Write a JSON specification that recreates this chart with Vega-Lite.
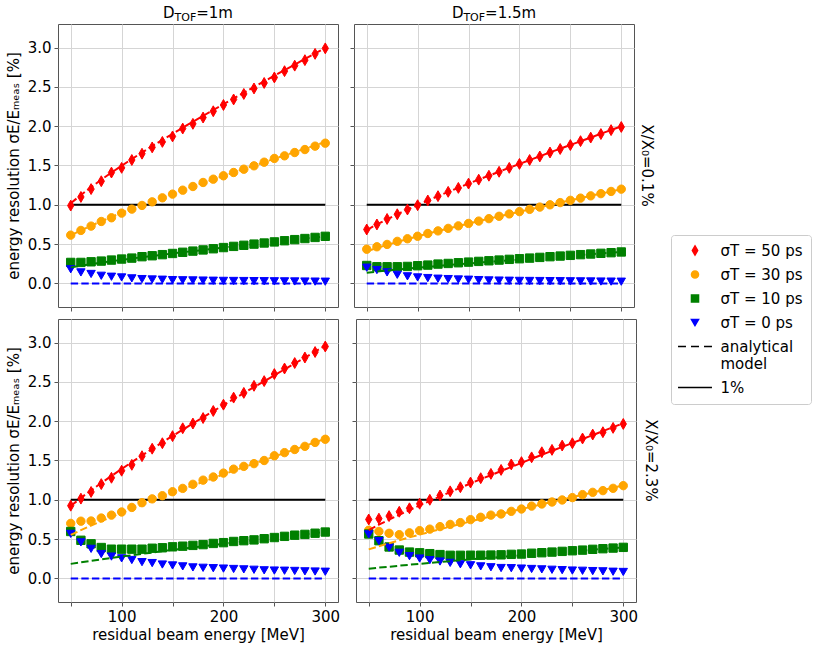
{
"$schema":"https://vega.github.io/schema/vega-lite/v6.json",
"padding":{"top":5,"left":5,"right":5,"bottom":0},
"datasets":{
"ref":[{"E":50,"E2":300,"m":1}],
"d":[
{"p":"tl","s":"50","E":50,"m":0.99,"a":1.019},{"p":"tl","s":"50","E":60,"m":1.10,"a":1.125},{"p":"tl","s":"50","E":70,"m":1.20,"a":1.224},{"p":"tl","s":"50","E":80,"m":1.30,"a":1.319},{"p":"tl","s":"50","E":90,"m":1.41,"a":1.410},{"p":"tl","s":"50","E":100,"m":1.47,"a":1.497},{"p":"tl","s":"50","E":110,"m":1.57,"a":1.582},{"p":"tl","s":"50","E":120,"m":1.65,"a":1.665},{"p":"tl","s":"50","E":130,"m":1.73,"a":1.746},{"p":"tl","s":"50","E":140,"m":1.80,"a":1.826},{"p":"tl","s":"50","E":150,"m":1.87,"a":1.904},{"p":"tl","s":"50","E":160,"m":1.97,"a":1.981},{"p":"tl","s":"50","E":170,"m":2.03,"a":2.057},{"p":"tl","s":"50","E":180,"m":2.11,"a":2.132},{"p":"tl","s":"50","E":190,"m":2.19,"a":2.206},{"p":"tl","s":"50","E":200,"m":2.27,"a":2.280},{"p":"tl","s":"50","E":210,"m":2.34,"a":2.353},{"p":"tl","s":"50","E":220,"m":2.41,"a":2.426},{"p":"tl","s":"50","E":230,"m":2.48,"a":2.498},{"p":"tl","s":"50","E":240,"m":2.55,"a":2.570},{"p":"tl","s":"50","E":250,"m":2.62,"a":2.642},{"p":"tl","s":"50","E":260,"m":2.70,"a":2.713},{"p":"tl","s":"50","E":270,"m":2.77,"a":2.784},{"p":"tl","s":"50","E":280,"m":2.84,"a":2.855},{"p":"tl","s":"50","E":290,"m":2.92,"a":2.926},{"p":"tl","s":"50","E":300,"m":2.99,"a":2.997},
{"p":"tl","s":"30","E":50,"m":0.614,"a":0.611},{"p":"tl","s":"30","E":60,"m":0.674,"a":0.675},{"p":"tl","s":"30","E":70,"m":0.729,"a":0.735},{"p":"tl","s":"30","E":80,"m":0.788,"a":0.791},{"p":"tl","s":"30","E":90,"m":0.835,"a":0.846},{"p":"tl","s":"30","E":100,"m":0.894,"a":0.898},{"p":"tl","s":"30","E":110,"m":0.945,"a":0.949},{"p":"tl","s":"30","E":120,"m":0.992,"a":0.999},{"p":"tl","s":"30","E":130,"m":1.038,"a":1.048},{"p":"tl","s":"30","E":140,"m":1.089,"a":1.095},{"p":"tl","s":"30","E":150,"m":1.136,"a":1.142},{"p":"tl","s":"30","E":160,"m":1.186,"a":1.188},{"p":"tl","s":"30","E":170,"m":1.233,"a":1.234},{"p":"tl","s":"30","E":180,"m":1.284,"a":1.279},{"p":"tl","s":"30","E":190,"m":1.326,"a":1.324},{"p":"tl","s":"30","E":200,"m":1.369,"a":1.368},{"p":"tl","s":"30","E":210,"m":1.411,"a":1.412},{"p":"tl","s":"30","E":220,"m":1.453,"a":1.456},{"p":"tl","s":"30","E":230,"m":1.496,"a":1.499},{"p":"tl","s":"30","E":240,"m":1.542,"a":1.542},{"p":"tl","s":"30","E":250,"m":1.59,"a":1.585},{"p":"tl","s":"30","E":260,"m":1.623,"a":1.628},{"p":"tl","s":"30","E":270,"m":1.665,"a":1.671},{"p":"tl","s":"30","E":280,"m":1.703,"a":1.713},{"p":"tl","s":"30","E":290,"m":1.746,"a":1.756},{"p":"tl","s":"30","E":300,"m":1.784,"a":1.798},
{"p":"tl","s":"10","E":50,"m":0.267,"a":0.204},{"p":"tl","s":"10","E":60,"m":0.267,"a":0.225},{"p":"tl","s":"10","E":70,"m":0.275,"a":0.245},{"p":"tl","s":"10","E":80,"m":0.284,"a":0.264},{"p":"tl","s":"10","E":90,"m":0.297,"a":0.282},{"p":"tl","s":"10","E":100,"m":0.310,"a":0.299},{"p":"tl","s":"10","E":110,"m":0.322,"a":0.316},{"p":"tl","s":"10","E":120,"m":0.340,"a":0.333},{"p":"tl","s":"10","E":130,"m":0.352,"a":0.349},{"p":"tl","s":"10","E":140,"m":0.366,"a":0.365},{"p":"tl","s":"10","E":150,"m":0.381,"a":0.381},{"p":"tl","s":"10","E":160,"m":0.396,"a":0.396},{"p":"tl","s":"10","E":170,"m":0.411,"a":0.411},{"p":"tl","s":"10","E":180,"m":0.426,"a":0.426},{"p":"tl","s":"10","E":190,"m":0.441,"a":0.441},{"p":"tl","s":"10","E":200,"m":0.456,"a":0.456},{"p":"tl","s":"10","E":210,"m":0.471,"a":0.471},{"p":"tl","s":"10","E":220,"m":0.485,"a":0.485},{"p":"tl","s":"10","E":230,"m":0.500,"a":0.500},{"p":"tl","s":"10","E":240,"m":0.514,"a":0.514},{"p":"tl","s":"10","E":250,"m":0.528,"a":0.528},{"p":"tl","s":"10","E":260,"m":0.543,"a":0.543},{"p":"tl","s":"10","E":270,"m":0.557,"a":0.557},{"p":"tl","s":"10","E":280,"m":0.571,"a":0.571},{"p":"tl","s":"10","E":290,"m":0.585,"a":0.585},{"p":"tl","s":"10","E":300,"m":0.599,"a":0.599},
{"p":"tl","s":"0","E":50,"m":0.180,"a":0},{"p":"tl","s":"0","E":60,"m":0.140,"a":0},{"p":"tl","s":"0","E":70,"m":0.120,"a":0},{"p":"tl","s":"0","E":80,"m":0.097,"a":0},{"p":"tl","s":"0","E":90,"m":0.085,"a":0},{"p":"tl","s":"0","E":100,"m":0.076,"a":0},{"p":"tl","s":"0","E":110,"m":0.064,"a":0},{"p":"tl","s":"0","E":120,"m":0.055,"a":0},{"p":"tl","s":"0","E":130,"m":0.050,"a":0},{"p":"tl","s":"0","E":140,"m":0.047,"a":0},{"p":"tl","s":"0","E":150,"m":0.042,"a":0},{"p":"tl","s":"0","E":160,"m":0.040,"a":0},{"p":"tl","s":"0","E":170,"m":0.038,"a":0},{"p":"tl","s":"0","E":180,"m":0.036,"a":0},{"p":"tl","s":"0","E":190,"m":0.034,"a":0},{"p":"tl","s":"0","E":200,"m":0.032,"a":0},{"p":"tl","s":"0","E":210,"m":0.031,"a":0},{"p":"tl","s":"0","E":220,"m":0.030,"a":0},{"p":"tl","s":"0","E":230,"m":0.029,"a":0},{"p":"tl","s":"0","E":240,"m":0.028,"a":0},{"p":"tl","s":"0","E":250,"m":0.027,"a":0},{"p":"tl","s":"0","E":260,"m":0.026,"a":0},{"p":"tl","s":"0","E":270,"m":0.025,"a":0},{"p":"tl","s":"0","E":280,"m":0.024,"a":0},{"p":"tl","s":"0","E":290,"m":0.023,"a":0},{"p":"tl","s":"0","E":300,"m":0.022,"a":0},

{"p":"tr","s":"50","E":50,"m":0.686,"a":0.679},{"p":"tr","s":"50","E":60,"m":0.750,"a":0.750},{"p":"tr","s":"50","E":70,"m":0.820,"a":0.816},{"p":"tr","s":"50","E":80,"m":0.880,"a":0.879},{"p":"tr","s":"50","E":90,"m":0.940,"a":0.940},{"p":"tr","s":"50","E":100,"m":0.995,"a":0.998},{"p":"tr","s":"50","E":110,"m":1.055,"a":1.055},{"p":"tr","s":"50","E":120,"m":1.110,"a":1.110},{"p":"tr","s":"50","E":130,"m":1.165,"a":1.164},{"p":"tr","s":"50","E":140,"m":1.215,"a":1.217},{"p":"tr","s":"50","E":150,"m":1.270,"a":1.269},{"p":"tr","s":"50","E":160,"m":1.320,"a":1.321},{"p":"tr","s":"50","E":170,"m":1.370,"a":1.371},{"p":"tr","s":"50","E":180,"m":1.420,"a":1.421},{"p":"tr","s":"50","E":190,"m":1.470,"a":1.471},{"p":"tr","s":"50","E":200,"m":1.520,"a":1.520},{"p":"tr","s":"50","E":210,"m":1.570,"a":1.569},{"p":"tr","s":"50","E":220,"m":1.615,"a":1.617},{"p":"tr","s":"50","E":230,"m":1.665,"a":1.666},{"p":"tr","s":"50","E":240,"m":1.710,"a":1.714},{"p":"tr","s":"50","E":250,"m":1.760,"a":1.761},{"p":"tr","s":"50","E":260,"m":1.810,"a":1.809},{"p":"tr","s":"50","E":270,"m":1.855,"a":1.856},{"p":"tr","s":"50","E":280,"m":1.900,"a":1.904},{"p":"tr","s":"50","E":290,"m":1.950,"a":1.951},{"p":"tr","s":"50","E":300,"m":1.990,"a":1.998},
{"p":"tr","s":"30","E":50,"m":0.435,"a":0.408},{"p":"tr","s":"30","E":60,"m":0.466,"a":0.450},{"p":"tr","s":"30","E":70,"m":0.496,"a":0.490},{"p":"tr","s":"30","E":80,"m":0.535,"a":0.528},{"p":"tr","s":"30","E":90,"m":0.568,"a":0.564},{"p":"tr","s":"30","E":100,"m":0.600,"a":0.599},{"p":"tr","s":"30","E":110,"m":0.635,"a":0.633},{"p":"tr","s":"30","E":120,"m":0.668,"a":0.666},{"p":"tr","s":"30","E":130,"m":0.700,"a":0.698},{"p":"tr","s":"30","E":140,"m":0.732,"a":0.730},{"p":"tr","s":"30","E":150,"m":0.763,"a":0.762},{"p":"tr","s":"30","E":160,"m":0.793,"a":0.792},{"p":"tr","s":"30","E":170,"m":0.824,"a":0.823},{"p":"tr","s":"30","E":180,"m":0.854,"a":0.853},{"p":"tr","s":"30","E":190,"m":0.884,"a":0.883},{"p":"tr","s":"30","E":200,"m":0.913,"a":0.912},{"p":"tr","s":"30","E":210,"m":0.942,"a":0.941},{"p":"tr","s":"30","E":220,"m":0.971,"a":0.970},{"p":"tr","s":"30","E":230,"m":1.000,"a":0.999},{"p":"tr","s":"30","E":240,"m":1.028,"a":1.028},{"p":"tr","s":"30","E":250,"m":1.057,"a":1.057},{"p":"tr","s":"30","E":260,"m":1.085,"a":1.085},{"p":"tr","s":"30","E":270,"m":1.114,"a":1.114},{"p":"tr","s":"30","E":280,"m":1.142,"a":1.142},{"p":"tr","s":"30","E":290,"m":1.170,"a":1.170},{"p":"tr","s":"30","E":300,"m":1.199,"a":1.199},
{"p":"tr","s":"10","E":50,"m":0.228,"a":0.136},{"p":"tr","s":"10","E":60,"m":0.212,"a":0.150},{"p":"tr","s":"10","E":70,"m":0.212,"a":0.163},{"p":"tr","s":"10","E":80,"m":0.212,"a":0.176},{"p":"tr","s":"10","E":90,"m":0.216,"a":0.188},{"p":"tr","s":"10","E":100,"m":0.225,"a":0.200},{"p":"tr","s":"10","E":110,"m":0.233,"a":0.211},{"p":"tr","s":"10","E":120,"m":0.246,"a":0.222},{"p":"tr","s":"10","E":130,"m":0.254,"a":0.233},{"p":"tr","s":"10","E":140,"m":0.263,"a":0.243},{"p":"tr","s":"10","E":150,"m":0.271,"a":0.254},{"p":"tr","s":"10","E":160,"m":0.280,"a":0.264},{"p":"tr","s":"10","E":170,"m":0.288,"a":0.274},{"p":"tr","s":"10","E":180,"m":0.297,"a":0.284},{"p":"tr","s":"10","E":190,"m":0.306,"a":0.294},{"p":"tr","s":"10","E":200,"m":0.314,"a":0.304},{"p":"tr","s":"10","E":210,"m":0.322,"a":0.314},{"p":"tr","s":"10","E":220,"m":0.331,"a":0.323},{"p":"tr","s":"10","E":230,"m":0.340,"a":0.333},{"p":"tr","s":"10","E":240,"m":0.348,"a":0.343},{"p":"tr","s":"10","E":250,"m":0.357,"a":0.352},{"p":"tr","s":"10","E":260,"m":0.366,"a":0.362},{"p":"tr","s":"10","E":270,"m":0.374,"a":0.371},{"p":"tr","s":"10","E":280,"m":0.383,"a":0.381},{"p":"tr","s":"10","E":290,"m":0.391,"a":0.390},{"p":"tr","s":"10","E":300,"m":0.400,"a":0.400},
{"p":"tr","s":"0","E":50,"m":0.200,"a":0},{"p":"tr","s":"0","E":60,"m":0.170,"a":0},{"p":"tr","s":"0","E":70,"m":0.140,"a":0},{"p":"tr","s":"0","E":80,"m":0.110,"a":0},{"p":"tr","s":"0","E":90,"m":0.090,"a":0},{"p":"tr","s":"0","E":100,"m":0.076,"a":0},{"p":"tr","s":"0","E":110,"m":0.068,"a":0},{"p":"tr","s":"0","E":120,"m":0.060,"a":0},{"p":"tr","s":"0","E":130,"m":0.055,"a":0},{"p":"tr","s":"0","E":140,"m":0.050,"a":0},{"p":"tr","s":"0","E":150,"m":0.047,"a":0},{"p":"tr","s":"0","E":160,"m":0.042,"a":0},{"p":"tr","s":"0","E":170,"m":0.038,"a":0},{"p":"tr","s":"0","E":180,"m":0.036,"a":0},{"p":"tr","s":"0","E":190,"m":0.034,"a":0},{"p":"tr","s":"0","E":200,"m":0.032,"a":0},{"p":"tr","s":"0","E":210,"m":0.031,"a":0},{"p":"tr","s":"0","E":220,"m":0.030,"a":0},{"p":"tr","s":"0","E":230,"m":0.029,"a":0},{"p":"tr","s":"0","E":240,"m":0.028,"a":0},{"p":"tr","s":"0","E":250,"m":0.027,"a":0},{"p":"tr","s":"0","E":260,"m":0.026,"a":0},{"p":"tr","s":"0","E":270,"m":0.025,"a":0},{"p":"tr","s":"0","E":280,"m":0.024,"a":0},{"p":"tr","s":"0","E":290,"m":0.023,"a":0},{"p":"tr","s":"0","E":300,"m":0.022,"a":0},

{"p":"bl","s":"50","E":50,"m":0.925,"a":0.922},{"p":"bl","s":"50","E":60,"m":1.015,"a":1.024},{"p":"bl","s":"50","E":70,"m":1.100,"a":1.120},{"p":"bl","s":"50","E":80,"m":1.200,"a":1.213},{"p":"bl","s":"50","E":90,"m":1.280,"a":1.304},{"p":"bl","s":"50","E":100,"m":1.370,"a":1.392},{"p":"bl","s":"50","E":110,"m":1.445,"a":1.479},{"p":"bl","s":"50","E":120,"m":1.555,"a":1.565},{"p":"bl","s":"50","E":130,"m":1.650,"a":1.648},{"p":"bl","s":"50","E":140,"m":1.720,"a":1.731},{"p":"bl","s":"50","E":150,"m":1.810,"a":1.813},{"p":"bl","s":"50","E":160,"m":1.910,"a":1.892},{"p":"bl","s":"50","E":170,"m":1.970,"a":1.971},{"p":"bl","s":"50","E":180,"m":2.040,"a":2.049},{"p":"bl","s":"50","E":190,"m":2.130,"a":2.127},{"p":"bl","s":"50","E":200,"m":2.210,"a":2.205},{"p":"bl","s":"50","E":210,"m":2.300,"a":2.282},{"p":"bl","s":"50","E":220,"m":2.360,"a":2.358},{"p":"bl","s":"50","E":230,"m":2.450,"a":2.433},{"p":"bl","s":"50","E":240,"m":2.510,"a":2.508},{"p":"bl","s":"50","E":250,"m":2.600,"a":2.584},{"p":"bl","s":"50","E":260,"m":2.670,"a":2.659},{"p":"bl","s":"50","E":270,"m":2.740,"a":2.734},{"p":"bl","s":"50","E":280,"m":2.810,"a":2.809},{"p":"bl","s":"50","E":290,"m":2.880,"a":2.885},{"p":"bl","s":"50","E":300,"m":2.950,"a":2.961},
{"p":"bl","s":"30","E":50,"m":0.700,"a":0.553},{"p":"bl","s":"30","E":60,"m":0.728,"a":0.614},{"p":"bl","s":"30","E":70,"m":0.730,"a":0.673},{"p":"bl","s":"30","E":80,"m":0.768,"a":0.728},{"p":"bl","s":"30","E":90,"m":0.805,"a":0.783},{"p":"bl","s":"30","E":100,"m":0.845,"a":0.835},{"p":"bl","s":"30","E":110,"m":0.903,"a":0.887},{"p":"bl","s":"30","E":120,"m":0.963,"a":0.939},{"p":"bl","s":"30","E":130,"m":1.012,"a":0.989},{"p":"bl","s":"30","E":140,"m":1.052,"a":1.038},{"p":"bl","s":"30","E":150,"m":1.103,"a":1.087},{"p":"bl","s":"30","E":160,"m":1.145,"a":1.135},{"p":"bl","s":"30","E":170,"m":1.197,"a":1.182},{"p":"bl","s":"30","E":180,"m":1.250,"a":1.229},{"p":"bl","s":"30","E":190,"m":1.290,"a":1.276},{"p":"bl","s":"30","E":200,"m":1.340,"a":1.323},{"p":"bl","s":"30","E":210,"m":1.390,"a":1.370},{"p":"bl","s":"30","E":220,"m":1.425,"a":1.415},{"p":"bl","s":"30","E":230,"m":1.460,"a":1.460},{"p":"bl","s":"30","E":240,"m":1.500,"a":1.505},{"p":"bl","s":"30","E":250,"m":1.560,"a":1.550},{"p":"bl","s":"30","E":260,"m":1.600,"a":1.595},{"p":"bl","s":"30","E":270,"m":1.640,"a":1.641},{"p":"bl","s":"30","E":280,"m":1.680,"a":1.686},{"p":"bl","s":"30","E":290,"m":1.730,"a":1.731},{"p":"bl","s":"30","E":300,"m":1.770,"a":1.776},
{"p":"bl","s":"10","E":50,"m":0.597,"a":0.185},{"p":"bl","s":"10","E":60,"m":0.485,"a":0.205},{"p":"bl","s":"10","E":70,"m":0.440,"a":0.224},{"p":"bl","s":"10","E":80,"m":0.393,"a":0.243},{"p":"bl","s":"10","E":90,"m":0.372,"a":0.261},{"p":"bl","s":"10","E":100,"m":0.372,"a":0.278},{"p":"bl","s":"10","E":110,"m":0.372,"a":0.295},{"p":"bl","s":"10","E":120,"m":0.372,"a":0.313},{"p":"bl","s":"10","E":130,"m":0.384,"a":0.329},{"p":"bl","s":"10","E":140,"m":0.390,"a":0.346},{"p":"bl","s":"10","E":150,"m":0.402,"a":0.363},{"p":"bl","s":"10","E":160,"m":0.410,"a":0.378},{"p":"bl","s":"10","E":170,"m":0.420,"a":0.394},{"p":"bl","s":"10","E":180,"m":0.430,"a":0.409},{"p":"bl","s":"10","E":190,"m":0.445,"a":0.425},{"p":"bl","s":"10","E":200,"m":0.455,"a":0.441},{"p":"bl","s":"10","E":210,"m":0.470,"a":0.457},{"p":"bl","s":"10","E":220,"m":0.480,"a":0.471},{"p":"bl","s":"10","E":230,"m":0.490,"a":0.487},{"p":"bl","s":"10","E":240,"m":0.505,"a":0.502},{"p":"bl","s":"10","E":250,"m":0.520,"a":0.516},{"p":"bl","s":"10","E":260,"m":0.535,"a":0.532},{"p":"bl","s":"10","E":270,"m":0.550,"a":0.547},{"p":"bl","s":"10","E":280,"m":0.560,"a":0.562},{"p":"bl","s":"10","E":290,"m":0.575,"a":0.577},{"p":"bl","s":"10","E":300,"m":0.590,"a":0.592},
{"p":"bl","s":"0","E":50,"m":0.567,"a":0},{"p":"bl","s":"0","E":60,"m":0.458,"a":0},{"p":"bl","s":"0","E":70,"m":0.376,"a":0},{"p":"bl","s":"0","E":80,"m":0.310,"a":0},{"p":"bl","s":"0","E":90,"m":0.278,"a":0},{"p":"bl","s":"0","E":100,"m":0.255,"a":0},{"p":"bl","s":"0","E":110,"m":0.234,"a":0},{"p":"bl","s":"0","E":120,"m":0.207,"a":0},{"p":"bl","s":"0","E":130,"m":0.195,"a":0},{"p":"bl","s":"0","E":140,"m":0.177,"a":0},{"p":"bl","s":"0","E":150,"m":0.165,"a":0},{"p":"bl","s":"0","E":160,"m":0.153,"a":0},{"p":"bl","s":"0","E":170,"m":0.140,"a":0},{"p":"bl","s":"0","E":180,"m":0.135,"a":0},{"p":"bl","s":"0","E":190,"m":0.130,"a":0},{"p":"bl","s":"0","E":200,"m":0.125,"a":0},{"p":"bl","s":"0","E":210,"m":0.120,"a":0},{"p":"bl","s":"0","E":220,"m":0.115,"a":0},{"p":"bl","s":"0","E":230,"m":0.110,"a":0},{"p":"bl","s":"0","E":240,"m":0.103,"a":0},{"p":"bl","s":"0","E":250,"m":0.100,"a":0},{"p":"bl","s":"0","E":260,"m":0.098,"a":0},{"p":"bl","s":"0","E":270,"m":0.095,"a":0},{"p":"bl","s":"0","E":280,"m":0.090,"a":0},{"p":"bl","s":"0","E":290,"m":0.088,"a":0},{"p":"bl","s":"0","E":300,"m":0.085,"a":0},

{"p":"br","s":"50","E":50,"m":0.750,"a":0.615},{"p":"br","s":"50","E":60,"m":0.760,"a":0.683},{"p":"br","s":"50","E":70,"m":0.793,"a":0.747},{"p":"br","s":"50","E":80,"m":0.848,"a":0.809},{"p":"br","s":"50","E":90,"m":0.892,"a":0.870},{"p":"br","s":"50","E":100,"m":0.950,"a":0.928},{"p":"br","s":"50","E":110,"m":1.000,"a":0.986},{"p":"br","s":"50","E":120,"m":1.055,"a":1.043},{"p":"br","s":"50","E":130,"m":1.108,"a":1.099},{"p":"br","s":"50","E":140,"m":1.160,"a":1.154},{"p":"br","s":"50","E":150,"m":1.220,"a":1.208},{"p":"br","s":"50","E":160,"m":1.275,"a":1.262},{"p":"br","s":"50","E":170,"m":1.330,"a":1.313},{"p":"br","s":"50","E":180,"m":1.380,"a":1.366},{"p":"br","s":"50","E":190,"m":1.450,"a":1.418},{"p":"br","s":"50","E":200,"m":1.480,"a":1.470},{"p":"br","s":"50","E":210,"m":1.540,"a":1.522},{"p":"br","s":"50","E":220,"m":1.605,"a":1.572},{"p":"br","s":"50","E":230,"m":1.635,"a":1.623},{"p":"br","s":"50","E":240,"m":1.690,"a":1.673},{"p":"br","s":"50","E":250,"m":1.720,"a":1.722},{"p":"br","s":"50","E":260,"m":1.780,"a":1.773},{"p":"br","s":"50","E":270,"m":1.830,"a":1.823},{"p":"br","s":"50","E":280,"m":1.860,"a":1.874},{"p":"br","s":"50","E":290,"m":1.915,"a":1.924},{"p":"br","s":"50","E":300,"m":1.965,"a":1.974},
{"p":"br","s":"30","E":50,"m":0.612,"a":0.369},{"p":"br","s":"30","E":60,"m":0.598,"a":0.410},{"p":"br","s":"30","E":70,"m":0.574,"a":0.448},{"p":"br","s":"30","E":80,"m":0.557,"a":0.485},{"p":"br","s":"30","E":90,"m":0.580,"a":0.522},{"p":"br","s":"30","E":100,"m":0.608,"a":0.557},{"p":"br","s":"30","E":110,"m":0.627,"a":0.592},{"p":"br","s":"30","E":120,"m":0.659,"a":0.626},{"p":"br","s":"30","E":130,"m":0.687,"a":0.659},{"p":"br","s":"30","E":140,"m":0.710,"a":0.692},{"p":"br","s":"30","E":150,"m":0.748,"a":0.725},{"p":"br","s":"30","E":160,"m":0.778,"a":0.757},{"p":"br","s":"30","E":170,"m":0.805,"a":0.788},{"p":"br","s":"30","E":180,"m":0.820,"a":0.820},{"p":"br","s":"30","E":190,"m":0.853,"a":0.851},{"p":"br","s":"30","E":200,"m":0.883,"a":0.882},{"p":"br","s":"30","E":210,"m":0.920,"a":0.913},{"p":"br","s":"30","E":220,"m":0.947,"a":0.943},{"p":"br","s":"30","E":230,"m":0.972,"a":0.974},{"p":"br","s":"30","E":240,"m":0.998,"a":1.004},{"p":"br","s":"30","E":250,"m":1.028,"a":1.033},{"p":"br","s":"30","E":260,"m":1.066,"a":1.064},{"p":"br","s":"30","E":270,"m":1.095,"a":1.094},{"p":"br","s":"30","E":280,"m":1.117,"a":1.124},{"p":"br","s":"30","E":290,"m":1.146,"a":1.154},{"p":"br","s":"30","E":300,"m":1.180,"a":1.184},
{"p":"br","s":"10","E":50,"m":0.565,"a":0.123},{"p":"br","s":"10","E":60,"m":0.480,"a":0.137},{"p":"br","s":"10","E":70,"m":0.400,"a":0.149},{"p":"br","s":"10","E":80,"m":0.361,"a":0.162},{"p":"br","s":"10","E":90,"m":0.335,"a":0.174},{"p":"br","s":"10","E":100,"m":0.326,"a":0.186},{"p":"br","s":"10","E":110,"m":0.315,"a":0.197},{"p":"br","s":"10","E":120,"m":0.303,"a":0.209},{"p":"br","s":"10","E":130,"m":0.294,"a":0.220},{"p":"br","s":"10","E":140,"m":0.294,"a":0.231},{"p":"br","s":"10","E":150,"m":0.295,"a":0.242},{"p":"br","s":"10","E":160,"m":0.295,"a":0.252},{"p":"br","s":"10","E":170,"m":0.297,"a":0.263},{"p":"br","s":"10","E":180,"m":0.300,"a":0.273},{"p":"br","s":"10","E":190,"m":0.306,"a":0.284},{"p":"br","s":"10","E":200,"m":0.310,"a":0.294},{"p":"br","s":"10","E":210,"m":0.320,"a":0.304},{"p":"br","s":"10","E":220,"m":0.327,"a":0.314},{"p":"br","s":"10","E":230,"m":0.335,"a":0.325},{"p":"br","s":"10","E":240,"m":0.344,"a":0.335},{"p":"br","s":"10","E":250,"m":0.352,"a":0.344},{"p":"br","s":"10","E":260,"m":0.360,"a":0.355},{"p":"br","s":"10","E":270,"m":0.370,"a":0.365},{"p":"br","s":"10","E":280,"m":0.378,"a":0.375},{"p":"br","s":"10","E":290,"m":0.386,"a":0.385},{"p":"br","s":"10","E":300,"m":0.395,"a":0.395},
{"p":"br","s":"0","E":50,"m":0.560,"a":0},{"p":"br","s":"0","E":60,"m":0.475,"a":0},{"p":"br","s":"0","E":70,"m":0.392,"a":0},{"p":"br","s":"0","E":80,"m":0.326,"a":0},{"p":"br","s":"0","E":90,"m":0.283,"a":0},{"p":"br","s":"0","E":100,"m":0.253,"a":0},{"p":"br","s":"0","E":110,"m":0.232,"a":0},{"p":"br","s":"0","E":120,"m":0.215,"a":0},{"p":"br","s":"0","E":130,"m":0.198,"a":0},{"p":"br","s":"0","E":140,"m":0.180,"a":0},{"p":"br","s":"0","E":150,"m":0.167,"a":0},{"p":"br","s":"0","E":160,"m":0.153,"a":0},{"p":"br","s":"0","E":170,"m":0.142,"a":0},{"p":"br","s":"0","E":180,"m":0.132,"a":0},{"p":"br","s":"0","E":190,"m":0.130,"a":0},{"p":"br","s":"0","E":200,"m":0.125,"a":0},{"p":"br","s":"0","E":210,"m":0.120,"a":0},{"p":"br","s":"0","E":220,"m":0.115,"a":0},{"p":"br","s":"0","E":230,"m":0.110,"a":0},{"p":"br","s":"0","E":240,"m":0.105,"a":0},{"p":"br","s":"0","E":250,"m":0.100,"a":0},{"p":"br","s":"0","E":260,"m":0.097,"a":0},{"p":"br","s":"0","E":270,"m":0.093,"a":0},{"p":"br","s":"0","E":280,"m":0.090,"a":0},{"p":"br","s":"0","E":290,"m":0.085,"a":0},{"p":"br","s":"0","E":300,"m":0.082,"a":0}
]},
"config":{
"font":"DejaVu Sans",
"view":{"stroke":"#555","strokeWidth":1},
"axis":{"domain":false,"grid":true,"gridColor":"#d5d5d5","gridWidth":1,"tickColor":"#555","tickSize":4,"labelFontSize":15,"labelColor":"black","titleFontSize":15,"titleFontWeight":"normal","titleColor":"black","labelPadding":3,"titlePadding":6},
"axisX":{"titlePadding":3},
"title":{"fontSize":15,"fontWeight":"normal","color":"black"},
"range":{"category":["#ff0000","#ffa500","#008000","#0000ff","black","black"],
"symbol":["M0,-1.3L0.75,0L0,1.3L-0.75,0Z","circle","square","triangle-down","M-4.8,0H-2.55M-1.13,0H1.13M2.55,0H4.8","M-4.8,0H4.8"]}
},
"spacing":6,
"vconcat":[
{"spacing":10,"hconcat":[
{"width":280,"height":283,
"encoding":{"x":{"field":"E","type":"quantitative","scale":{"domain":[37.5,312.5],"nice":false,"zero":false},"axis":{"values":[50,100,150,200,250,300],"labels":false,"title":null}},
"y":{"field":"m","type":"quantitative","scale":{"domain":[-0.3,3.3],"nice":false,"zero":false},"axis":{"values":[0,0.5,1,1.5,2,2.5,3],"format":".1f","title":"energy resolution σE/Eₘₑₐₛ [%]"}}},
"layer":[
{"data":{"name":"ref"},"mark":{"type":"rule","color":"black","strokeWidth":2},"encoding":{"x2":{"field":"E2"}}},
{"data":{"name":"d"},"transform":[{"filter":"datum.p=='tl'"}],"mark":{"type":"point","filled":true,"size":70,"opacity":1,"strokeWidth":1},
"encoding":{
"fill":{"field":"s","type":"nominal","scale":{"domain":["50","30","10","0","analytical model","1%"]},"legend":{"title":null,"orient":"none","legendX":613,"legendY":211,"symbolSize":50,"symbolOffset":8.5,"labelOffset":18,"labelFontSize":15,"labelColor":"black","rowPadding":8,"padding":8,"strokeColor":"#cccccc","fillColor":"white","cornerRadius":3,"symbolStrokeWidth":1.5,"labelExpr":"datum.label == 'analytical model' ? ['analytical', 'model'] : (datum.label == '1%' ? '1%' : 'σT = ' + datum.label + ' ps')"}},
"stroke":{"field":"s","type":"nominal","scale":{"domain":["50","30","10","0","analytical model","1%"]},"legend":{"title":null,"orient":"none","legendX":613,"legendY":211,"symbolSize":50,"symbolOffset":8.5,"labelOffset":18,"labelFontSize":15,"labelColor":"black","rowPadding":8,"padding":8,"strokeColor":"#cccccc","fillColor":"white","cornerRadius":3,"symbolStrokeWidth":1.5,"labelExpr":"datum.label == 'analytical model' ? ['analytical', 'model'] : (datum.label == '1%' ? '1%' : 'σT = ' + datum.label + ' ps')"}},
"shape":{"field":"s","type":"nominal","scale":{"domain":["50","30","10","0","analytical model","1%"]},"legend":{"title":null,"orient":"none","legendX":613,"legendY":211,"symbolSize":50,"symbolOffset":8.5,"labelOffset":18,"labelFontSize":15,"labelColor":"black","rowPadding":8,"padding":8,"strokeColor":"#cccccc","fillColor":"white","cornerRadius":3,"symbolStrokeWidth":1.5,"labelExpr":"datum.label == 'analytical model' ? ['analytical', 'model'] : (datum.label == '1%' ? '1%' : 'σT = ' + datum.label + ' ps')"}}}},
{"data":{"name":"d"},"transform":[{"filter":"datum.p=='tl'"}],"mark":{"type":"line","strokeDash":[7.4,3.2],"strokeWidth":2},
"encoding":{"y":{"field":"a","type":"quantitative","scale":{"domain":[-0.3,3.3],"nice":false,"zero":false},"axis":{"values":[0,0.5,1,1.5,2,2.5,3],"format":".1f","title":"energy resolution σE/Eₘₑₐₛ [%]"}},"stroke":{"field":"s","type":"nominal","scale":{"domain":["50","30","10","0","analytical model","1%"]},"legend":null}}},
{"data":{"values":[{"E":175,"m":3.3,"t":"D"}]},"mark":{"type":"text","fontSize":15,"align":"left","baseline":"alphabetic","dx":-35,"dy":-6,"color":"black"},"encoding":{"text":{"field":"t"}}},
{"data":{"values":[{"E":175,"m":3.3,"t":"TOF"}]},"mark":{"type":"text","fontSize":11,"align":"left","baseline":"alphabetic","dx":-23.5,"dy":-3,"color":"black"},"encoding":{"text":{"field":"t"}}},
{"data":{"values":[{"E":175,"m":3.3,"t":"=1m"}]},"mark":{"type":"text","fontSize":15,"align":"left","baseline":"alphabetic","dx":-1.8,"dy":-6,"color":"black"},"encoding":{"text":{"field":"t"}}}
]},
{"width":280,"height":283,
"title":{"text":"X/X₀=0.1%","orient":"right","offset":5,"fontSize":15,"fontWeight":"normal"},
"encoding":{"x":{"field":"E","type":"quantitative","scale":{"domain":[37.5,312.5],"nice":false,"zero":false},"axis":{"values":[50,100,150,200,250,300],"labels":false,"title":null}},
"y":{"field":"m","type":"quantitative","scale":{"domain":[-0.3,3.3],"nice":false,"zero":false},"axis":{"values":[0,0.5,1,1.5,2,2.5,3],"labels":false,"title":null}}},
"layer":[
{"data":{"name":"ref"},"mark":{"type":"rule","color":"black","strokeWidth":2},"encoding":{"x2":{"field":"E2"}}},
{"data":{"name":"d"},"transform":[{"filter":"datum.p=='tr'"}],"mark":{"type":"point","filled":true,"size":70,"opacity":1,"strokeWidth":1},
"encoding":{
"fill":{"field":"s","type":"nominal","scale":{"domain":["50","30","10","0","analytical model","1%"]},"legend":null},
"stroke":{"field":"s","type":"nominal","scale":{"domain":["50","30","10","0","analytical model","1%"]},"legend":null},
"shape":{"field":"s","type":"nominal","scale":{"domain":["50","30","10","0","analytical model","1%"]},"legend":null}}},
{"data":{"name":"d"},"transform":[{"filter":"datum.p=='tr'"}],"mark":{"type":"line","strokeDash":[7.4,3.2],"strokeWidth":2},
"encoding":{"y":{"field":"a","type":"quantitative","scale":{"domain":[-0.3,3.3],"nice":false,"zero":false},"axis":{"values":[0,0.5,1,1.5,2,2.5,3],"labels":false,"title":null}},"stroke":{"field":"s","type":"nominal","scale":{"domain":["50","30","10","0","analytical model","1%"]},"legend":null}}},
{"data":{"values":[{"E":175,"m":3.3,"t":"D"}]},"mark":{"type":"text","fontSize":15,"align":"left","baseline":"alphabetic","dx":-42.1,"dy":-6,"color":"black"},"encoding":{"text":{"field":"t"}}},
{"data":{"values":[{"E":175,"m":3.3,"t":"TOF"}]},"mark":{"type":"text","fontSize":11,"align":"left","baseline":"alphabetic","dx":-30.6,"dy":-3,"color":"black"},"encoding":{"text":{"field":"t"}}},
{"data":{"values":[{"E":175,"m":3.3,"t":"=1.5m"}]},"mark":{"type":"text","fontSize":15,"align":"left","baseline":"alphabetic","dx":-8.9,"dy":-6,"color":"black"},"encoding":{"text":{"field":"t"}}}
]}
]},
{"spacing":10,"hconcat":[
{"width":280,"height":283,
"encoding":{"x":{"field":"E","type":"quantitative","scale":{"domain":[37.5,312.5],"nice":false,"zero":false},"axis":{"values":[50,100,150,200,250,300],"labelExpr":"datum.value % 100 == 0 ? datum.label : ''","title":"residual beam energy [MeV]"}},
"y":{"field":"m","type":"quantitative","scale":{"domain":[-0.3,3.3],"nice":false,"zero":false},"axis":{"values":[0,0.5,1,1.5,2,2.5,3],"format":".1f","title":"energy resolution σE/Eₘₑₐₛ [%]"}}},
"layer":[
{"data":{"name":"ref"},"mark":{"type":"rule","color":"black","strokeWidth":2},"encoding":{"x2":{"field":"E2"}}},
{"data":{"name":"d"},"transform":[{"filter":"datum.p=='bl'"}],"mark":{"type":"point","filled":true,"size":70,"opacity":1,"strokeWidth":1},
"encoding":{
"fill":{"field":"s","type":"nominal","scale":{"domain":["50","30","10","0","analytical model","1%"]},"legend":null},
"stroke":{"field":"s","type":"nominal","scale":{"domain":["50","30","10","0","analytical model","1%"]},"legend":null},
"shape":{"field":"s","type":"nominal","scale":{"domain":["50","30","10","0","analytical model","1%"]},"legend":null}}},
{"data":{"name":"d"},"transform":[{"filter":"datum.p=='bl'"}],"mark":{"type":"line","strokeDash":[7.4,3.2],"strokeWidth":2},
"encoding":{"y":{"field":"a","type":"quantitative","scale":{"domain":[-0.3,3.3],"nice":false,"zero":false},"axis":{"values":[0,0.5,1,1.5,2,2.5,3],"format":".1f","title":"energy resolution σE/Eₘₑₐₛ [%]"}},"stroke":{"field":"s","type":"nominal","scale":{"domain":["50","30","10","0","analytical model","1%"]},"legend":null}}}
]},
{"width":280,"height":283,
"title":{"text":"X/X₀=2.3%","orient":"right","offset":5,"fontSize":15,"fontWeight":"normal"},
"encoding":{"x":{"field":"E","type":"quantitative","scale":{"domain":[37.5,312.5],"nice":false,"zero":false},"axis":{"values":[50,100,150,200,250,300],"labelExpr":"datum.value % 100 == 0 ? datum.label : ''","title":"residual beam energy [MeV]"}},
"y":{"field":"m","type":"quantitative","scale":{"domain":[-0.3,3.3],"nice":false,"zero":false},"axis":{"values":[0,0.5,1,1.5,2,2.5,3],"labels":false,"title":null}}},
"layer":[
{"data":{"name":"ref"},"mark":{"type":"rule","color":"black","strokeWidth":2},"encoding":{"x2":{"field":"E2"}}},
{"data":{"name":"d"},"transform":[{"filter":"datum.p=='br'"}],"mark":{"type":"point","filled":true,"size":70,"opacity":1,"strokeWidth":1},
"encoding":{
"fill":{"field":"s","type":"nominal","scale":{"domain":["50","30","10","0","analytical model","1%"]},"legend":null},
"stroke":{"field":"s","type":"nominal","scale":{"domain":["50","30","10","0","analytical model","1%"]},"legend":null},
"shape":{"field":"s","type":"nominal","scale":{"domain":["50","30","10","0","analytical model","1%"]},"legend":null}}},
{"data":{"name":"d"},"transform":[{"filter":"datum.p=='br'"}],"mark":{"type":"line","strokeDash":[7.4,3.2],"strokeWidth":2},
"encoding":{"y":{"field":"a","type":"quantitative","scale":{"domain":[-0.3,3.3],"nice":false,"zero":false},"axis":{"values":[0,0.5,1,1.5,2,2.5,3],"labels":false,"title":null}},"stroke":{"field":"s","type":"nominal","scale":{"domain":["50","30","10","0","analytical model","1%"]},"legend":null}}}
]}
]}
],
"resolve":{"scale":{"fill":"shared","stroke":"shared","shape":"shared"}}
}
